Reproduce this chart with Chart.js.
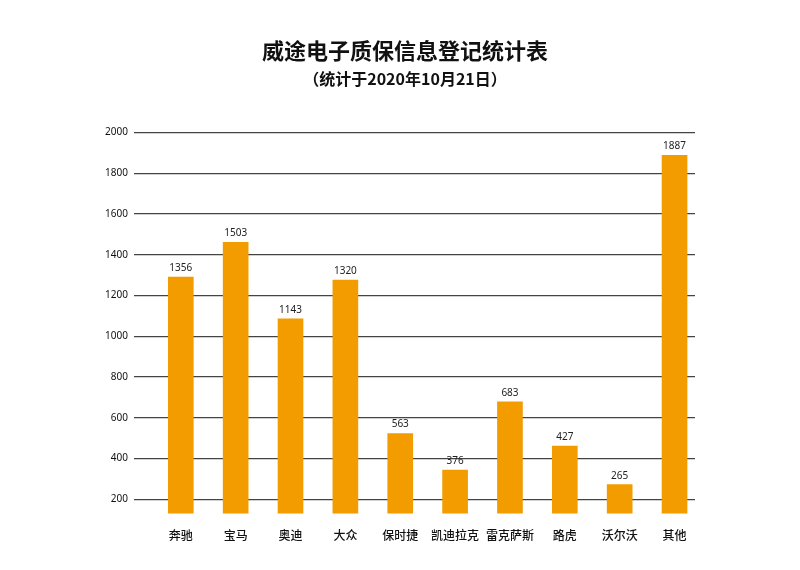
<!DOCTYPE html>
<html>
<head>
<meta charset="utf-8">
<script src="https://cdn.jsdelivr.net/npm/chart.js@4"></script>
<style>
  html, body { margin: 0; padding: 0; background: #fff; }
  #wrap { width: 800px; height: 570px; }
</style>
</head>
<body>
<div id="wrap"><canvas id="chart" width="800" height="570"></canvas></div>
<script>
// categorias e valores
const brands = ['奔驰', '宝马', '奥迪', '大众', '保时捷', '凯迪拉克', '雷克萨斯', '路虎', '沃尔沃', '其他'];
// bar heights as drawn in the picture
const barHeights = [1291, 1462, 1086, 1276, 523, 344, 679, 461, 272, 1888];
// numbers printed above the bars
const printedValues = ['1356', '1503', '1143', '1320', '563', '376', '683', '427', '265', '1887'];
const yTicks = [200, 400, 600, 800, 1000, 1200, 1400, 1600, 1800, 2000];

const cjk = '"Noto Sans CJK SC", "Noto Sans", sans-serif';

// rótulos acima das barras
const barLabels = {
    id: 'barLabels',
    afterDatasetsDraw(chart) {
        const ctx = chart.ctx;
        const meta = chart.getDatasetMeta(0);
        ctx.save();
        ctx.font = '10px "Noto Sans", sans-serif';
        ctx.fillStyle = '#222';
        ctx.textAlign = 'center';
        ctx.textBaseline = 'bottom';
        meta.data.forEach((bar, i) => {
            ctx.fillText(printedValues[i], bar.x, bar.y - 4);
        });
        ctx.restore();
    }
};

new Chart(document.getElementById('chart'), {
    type: 'bar',
    data: {
        datasets: [{
            data: barHeights.map((v, i) => ({ x: i, y: v })),
            backgroundColor: '#F39C00',
            borderWidth: 0,
            barThickness: 25
        }]
    },
    options: {
        responsive: false,
        animation: false,
        layout: { padding: { left: 95, right: 85, top: 0, bottom: 12 } },
        plugins: {
            legend: { display: false },
            tooltip: { enabled: false },
            title: {
                display: true,
                text: '威途电子质保信息登记统计表',
                color: '#111',
                font: { family: cjk, size: 22, weight: 'bold', lineHeight: 1.2 },
                padding: { top: 37, bottom: 0 }
            },
            subtitle: {
                display: true,
                text: '（统计于2020年10月21日）',
                color: '#111',
                font: { family: cjk, size: 16, weight: 'bold', lineHeight: 1.2 },
                padding: { top: 6, bottom: 44 }
            }
        },
        scales: {
            x: {
                type: 'linear',
                min: -0.853,
                max: 9.373,
                offset: false,
                grid: { display: false, drawTicks: false },
                border: { display: false },
                afterBuildTicks(scale) {
                    scale.ticks = brands.map((b, i) => ({ value: i }));
                },
                ticks: {
                    padding: 15,
                    maxRotation: 0,
                    minRotation: 0,
                    autoSkip: false,
                    color: '#111',
                    font: { family: cjk, size: 12, weight: '500' },
                    callback: function(value) {
                        return brands[value];
                    }
                }
            },
            y: {
                min: 130,
                max: 2000,
                afterFit(scale) { scale.width = 39; },
                afterBuildTicks(scale) {
                    scale.ticks = yTicks.map(v => ({ value: v }));
                },
                grid: {
                    drawTicks: false,
                    color: '#444',
                    lineWidth: 1.2
                },
                border: { display: false },
                ticks: {
                    padding: 6,
                    color: '#111',
                    font: { family: '"Noto Sans", sans-serif', size: 10 },
                    callback: function(value) {
                        return String(value);
                    }
                }
            },
            // empty right axis, only to keep the chart area where it is
            spacer: {
                type: 'linear',
                position: 'right',
                min: 0,
                max: 1,
                grid: { display: false, drawTicks: false },
                border: { display: false },
                ticks: { display: false },
                afterFit(scale) { scale.width = 20; }
            }
        }
    },
    plugins: [barLabels]
});
</script>
</body>
</html>
